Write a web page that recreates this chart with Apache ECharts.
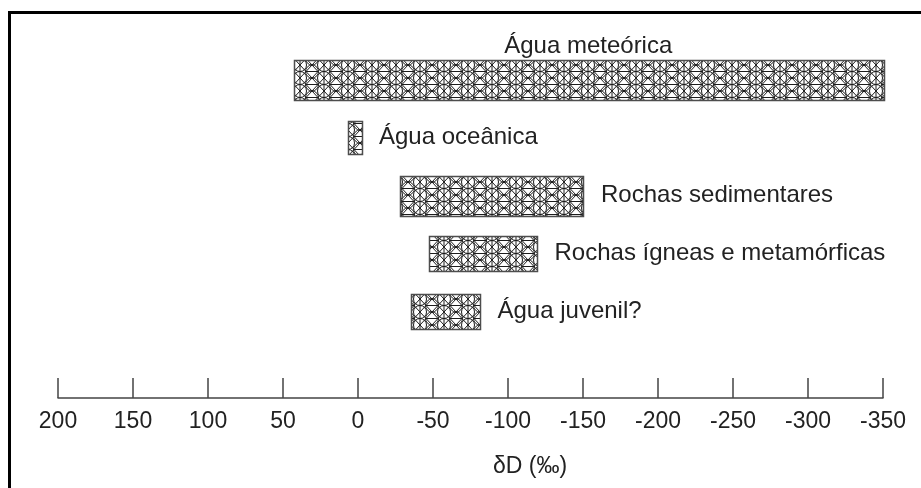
<!DOCTYPE html>
<html>
<head>
<meta charset="utf-8">
<script src="https://cdn.jsdelivr.net/npm/echarts@6/dist/echarts.min.js"></script>
<style>
  html, body { margin: 0; padding: 0; background: #fff; }
  #chart { width: 921px; height: 488px; }
</style>
</head>
<body>
<div id="chart"></div>
<script>
// Hydrogen isotope ranges (δD, ‰ vs SMOW) of natural water reservoirs
const sources   = ['Água meteórica', 'Água oceânica', 'Rochas sedimentares', 'Rochas ígneas e metamórficas', 'Água juvenil?'];
const rangeHigh = [43, 7, -28, -47, -35];
const rangeLow  = [-350, -2, -150, -119, -81];

// δD scale, drawn high-to-low from left to right
const axisMax  = 200;
const axisMin  = -350;
const axisStep = 50;
const axisTitle = 'δD (‰)';

const FONT = "'Liberation Sans', Arial, Helvetica, sans-serif";

// Box heights per row
const boxHeight = [40, 33, 40, 35, 35];

// Triangulated mesh texture used to fill the range boxes
function meshTexture() {
  const W = 24, H = 13;
  const c = document.createElement('canvas');
  c.width = W; c.height = H;
  const g = c.getContext('2d');
  g.fillStyle = '#ffffff';
  g.fillRect(0, 0, W, H);
  g.strokeStyle = '#1c1c1c';
  g.lineWidth = 1;
  g.beginPath();
  g.moveTo(0, 0); g.lineTo(W / 2, H); g.lineTo(W, 0);
  g.moveTo(0, H); g.lineTo(W / 2, 0); g.lineTo(W, H);
  g.moveTo(W / 2, 0); g.lineTo(W / 2, H);
  g.moveTo(0, H / 2); g.lineTo(W / 4, H / 2);
  g.moveTo(3 * W / 4, H / 2); g.lineTo(W, H / 2);
  g.stroke();
  g.beginPath();
  const r = 6.5;
  [[0, H / 2], [W, H / 2], [W / 2, 0], [W / 2, H]].forEach(([cx, cy]) => {
    g.moveTo(cx + r, cy);
    g.arc(cx, cy, r, 0, Math.PI * 2);
  });
  g.stroke();
  return c;
}
const meshFill = { image: meshTexture(), repeat: 'repeat' };

const chart = echarts.init(document.getElementById('chart'), null, { renderer: 'canvas' });

chart.setOption({
  animation: false,
  backgroundColor: '#ffffff',
  grid: { left: 58, right: 38, top: 51, height: 289, containLabel: false },
  xAxis: {
    type: 'value',
    inverse: true,
    min: axisMin,
    max: axisMax,
    interval: axisStep,
    position: 'bottom',
    offset: 58,
    axisLine: { show: true, lineStyle: { color: '#444', width: 1.5 } },
    axisTick: { show: true, inside: true, length: 20, lineStyle: { color: '#444', width: 1.5 } },
    axisLabel: { color: '#222', fontSize: 23, fontFamily: FONT, margin: 12 },
    splitLine: { show: false }
  },
  yAxis: {
    type: 'category',
    inverse: true,
    data: sources,
    show: false
  },
  series: [{
    type: 'custom',
    data: sources.map((name, i) => [i, rangeHigh[i], rangeLow[i]]),
    encode: { y: 0, x: [1, 2] },
    renderItem(params, api) {
      const i = params.dataIndex;
      const a = api.coord([api.value(1), i]);
      const b = api.coord([api.value(2), i]);
      const h = boxHeight[i];
      const x = Math.min(a[0], b[0]);
      const w = Math.abs(b[0] - a[0]);
      const y = a[1] - h / 2;
      // first row is labelled above its box, the others to the right
      const label = i === 0
        ? { x: x + w / 2, y: y - 14, align: 'center' }
        : { x: x + w + 18, y: a[1], align: 'left' };
      return {
        type: 'group',
        children: [
          {
            type: 'rect',
            shape: { x: Math.round(x) + 0.5, y: Math.round(y) + 0.5, width: Math.round(w), height: h },
            style: { fill: meshFill, stroke: '#4d4d4d', lineWidth: 1.5 }
          },
          {
            type: 'text',
            style: {
              text: sources[i],
              x: label.x,
              y: label.y,
              align: label.align,
              verticalAlign: 'middle',
              fill: '#222',
              fontSize: 24,
              fontFamily: FONT
            }
          }
        ]
      };
    }
  }],
  graphic: [
    {
      type: 'text',
      style: {
        text: axisTitle,
        x: 530, y: 467,
        align: 'center', verticalAlign: 'middle',
        fill: '#222', fontSize: 23, fontFamily: FONT
      }
    },
    {
      type: 'polyline',
      shape: { points: [[9.5, 488], [9.5, 12.5], [921, 12.5]] },
      style: { stroke: '#000', lineWidth: 3, fill: null }
    }
  ]
});
</script>
</body>
</html>
